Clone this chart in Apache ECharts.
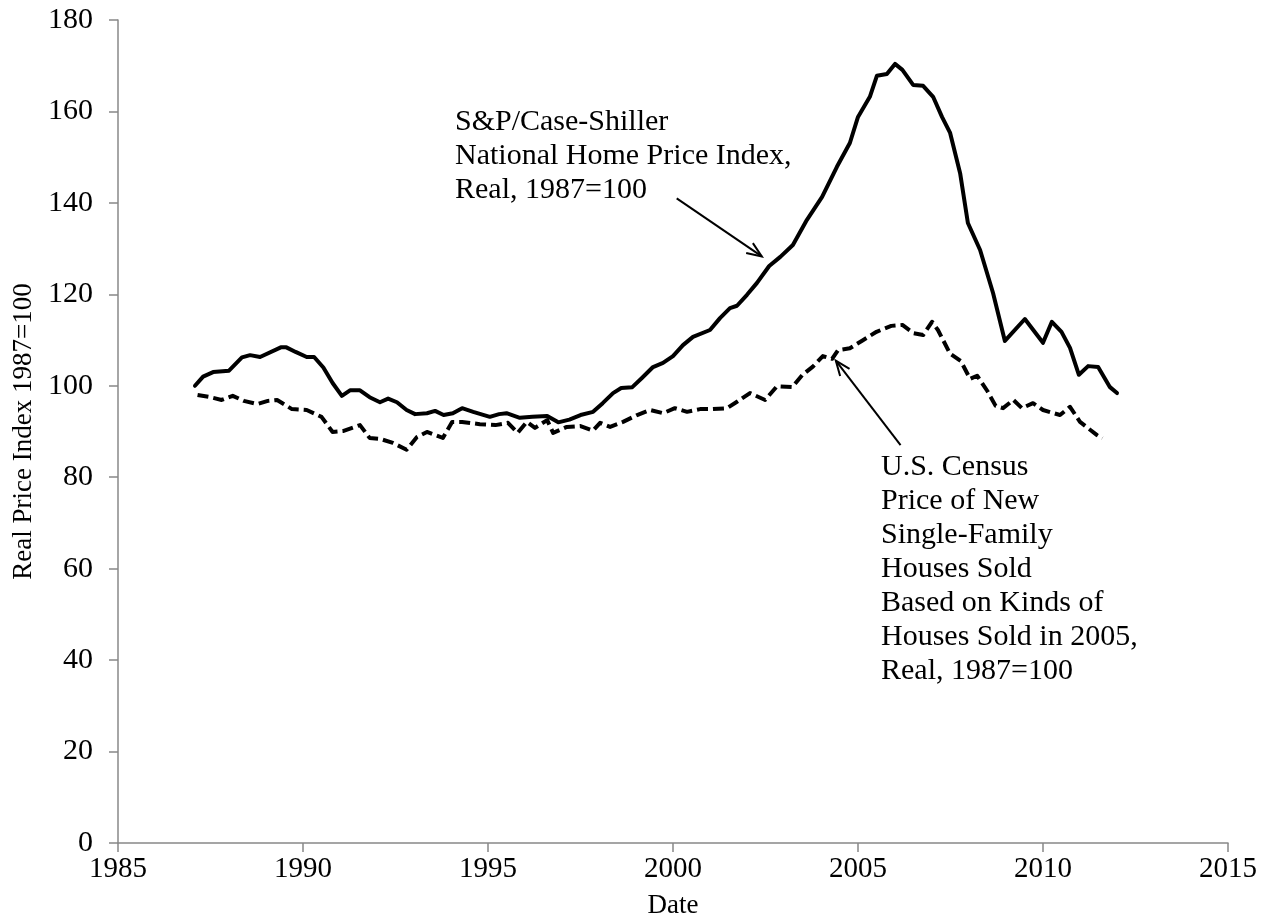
<!DOCTYPE html>
<html>
<head>
<meta charset="utf-8">
<script src="https://cdn.jsdelivr.net/npm/echarts@6/dist/echarts.min.js"></script>
<style>
  html, body { margin: 0; padding: 0; background: #fff; }
  #main { width: 1263px; height: 918px; }
</style>
</head>
<body>
<div id="main"></div>
<script>
// S&P/Case-Shiller real index
var csYears = [1987.08, 1987.3, 1987.57, 1988.0, 1988.35, 1988.57, 1988.84, 1989.4, 1989.55, 1989.8,
  1990.1, 1990.3, 1990.55, 1990.8, 1991.05, 1991.27, 1991.54, 1991.8, 1992.08, 1992.3,
  1992.54, 1992.8, 1993.03, 1993.35, 1993.57, 1993.8, 1994.05, 1994.3, 1994.6, 1995.05,
  1995.3, 1995.5, 1995.86, 1996.2, 1996.6, 1996.9, 1997.2, 1997.5, 1997.84, 1998.1,
  1998.38, 1998.6, 1998.9, 1999.16, 1999.46, 1999.73, 2000.0, 2000.27, 2000.54, 2001.0,
  2001.27, 2001.54, 2001.73, 2002.0, 2002.27, 2002.6, 2002.9, 2003.24, 2003.62, 2004.03,
  2004.43, 2004.78, 2005.0, 2005.32, 2005.51, 2005.78, 2006.0, 2006.2, 2006.49, 2006.76,
  2007.03, 2007.27, 2007.49, 2007.76, 2007.97, 2008.3, 2008.65, 2008.97, 2009.51, 2010.0,
  2010.24, 2010.5, 2010.73, 2010.97, 2011.22, 2011.49, 2011.81, 2012.0];
var csIndex = [100, 102, 103, 103.3, 106.2, 106.7, 106.3, 108.4, 108.4, 107.4,
  106.3, 106.3, 104, 100.6, 97.8, 99, 99, 97.5, 96.4, 97.2,
  96.4, 94.7, 93.8, 94, 94.5, 93.6, 94, 95.1, 94.3, 93.2,
  93.8, 94, 93, 93.2, 93.4, 92, 92.6, 93.6, 94.3, 96.2,
  98.4, 99.5, 99.7, 101.7, 104.1, 105, 106.5, 108.9, 110.7, 112.2,
  114.8, 117, 117.5, 119.9, 122.5, 126.2, 128.2, 130.8, 136.3, 141.3,
  147.9, 153.1, 158.8, 163.2, 167.8, 168.2, 170.4, 169.1, 165.8, 165.6,
  163.2, 158.8, 155.3, 146.5, 135.6, 129.7, 120.3, 109.8, 114.6, 109.4,
  114, 111.8, 108.3, 102.4, 104.3, 104.1, 99.7, 98.4];

// U.S. Census new single-family houses, constant quality, real
var censusYears = [1987.15, 1987.5, 1987.8, 1988.1, 1988.4, 1988.76, 1989.05, 1989.3, 1989.7, 1990.1,
  1990.5, 1990.8, 1991.08, 1991.54, 1991.8, 1992.08, 1992.43, 1992.8, 1993.08, 1993.35,
  1993.78, 1994.03, 1994.3, 1994.78, 1995.2, 1995.54, 1995.8, 1996.05, 1996.27, 1996.6,
  1996.76, 1997.13, 1997.5, 1997.84, 1998.03, 1998.3, 1998.65, 1999.03, 1999.38, 1999.73,
  2000.05, 2000.38, 2000.73, 2001.08, 2001.46, 2001.73, 2002.08, 2002.49, 2002.81, 2003.22,
  2003.5, 2003.78, 2004.05, 2004.3, 2004.46, 2004.78, 2005.1, 2005.5, 2005.9, 2006.2,
  2006.5, 2006.76, 2007.0, 2007.16, 2007.49, 2007.78, 2008.03, 2008.22, 2008.5, 2008.72,
  2008.92, 2009.2, 2009.43, 2009.73, 2010.0, 2010.46, 2010.73, 2011.0, 2011.46, 2011.6];
var censusIndex = [98, 97.5, 96.9, 97.8, 96.7, 96, 96.7, 96.9, 94.9, 94.7,
  93.2, 89.9, 90.1, 91.4, 88.6, 88.4, 87.5, 86, 88.8, 89.9,
  88.6, 92.1, 92.1, 91.6, 91.4, 91.9, 89.7, 92.1, 90.8, 92.5,
  89.7, 91, 91.2, 90.2, 91.9, 91, 92.1, 93.6, 94.7, 94,
  95.1, 94.3, 94.9, 94.9, 95.1, 96.5, 98.4, 96.9, 99.9, 99.7,
  102.4, 104.2, 106.5, 105.9, 107.8, 108.2, 109.8, 111.8, 113.1, 113.3,
  111.5, 111.1, 114, 112.2, 107, 105.4, 101.5, 102.2, 98.8, 95.6,
  95.1, 96.9, 95.1, 96.2, 94.7, 93.6, 95.4, 92.1, 89.2, 88.5];

var xTicks = [1985, 1990, 1995, 2000, 2005, 2010, 2015];
var yTicks = [0, 20, 40, 60, 80, 100, 120, 140, 160, 180];

function pairs(xs, ys) {
    var out = [];
    for (var i = 0; i < xs.length; i++) out.push([xs[i], ys[i]]);
    return out;
}

var serif = '"Liberation Serif", "DejaVu Serif", serif';
var myChart = echarts.init(document.getElementById('main'));

var option = {
    animation: false,
    backgroundColor: '#fff',
    grid: {
        left: 118,
        right: 35,
        top: 20,
        bottom: 75,
        outerBoundsMode: 'none'
    },
    xAxis: {
        type: 'value',
        min: xTicks[0],
        max: xTicks[xTicks.length - 1],
        interval: 5,
        name: 'Date',
        nameLocation: 'middle',
        nameGap: 49,
        nameTextStyle: { fontFamily: serif, fontSize: 27, color: '#000' },
        axisLine: { lineStyle: { color: '#888', width: 1.5 } },
        axisTick: { show: true, length: 9, lineStyle: { color: '#888', width: 1.5 } },
        axisLabel: {
            fontFamily: serif, fontSize: 29, color: '#000', margin: 12,
            formatter: function (v) { return String(v); }
        },
        splitLine: { show: false }
    },
    yAxis: {
        type: 'value',
        min: yTicks[0],
        max: yTicks[yTicks.length - 1],
        interval: 20,
        name: 'Real Price Index 1987=100',
        nameLocation: 'middle',
        nameGap: 79,
        nameTextStyle: { fontFamily: serif, fontSize: 27, color: '#000' },
        axisLine: { show: true, lineStyle: { color: '#888', width: 1.5 } },
        axisTick: { show: true, length: 9, lineStyle: { color: '#888', width: 1.5 } },
        axisLabel: { fontFamily: serif, fontSize: 30, color: '#000', margin: 25 },
        splitLine: { show: false }
    },
    series: [
        {
            name: 'S&P/Case-Shiller',
            type: 'line',
            showSymbol: false,
            data: pairs(csYears, csIndex),
            lineStyle: { color: '#000', width: 4, join: 'round', cap: 'round' }
        },
        {
            name: 'U.S. Census',
            type: 'line',
            showSymbol: false,
            data: pairs(censusYears, censusIndex),
            lineStyle: { color: '#000', width: 4, type: [11, 5], join: 'round' }
        }
    ]
};

myChart.setOption(option);

// annotation arrows, anchored in data space
function arrow(from, to) {
    var a = myChart.convertToPixel({ gridIndex: 0 }, from);
    var b = myChart.convertToPixel({ gridIndex: 0 }, to);
    var ang = Math.atan2(b[1] - a[1], b[0] - a[0]);
    var len = 16, spread = 0.38;
    var h1 = [b[0] - len * Math.cos(ang - spread), b[1] - len * Math.sin(ang - spread)];
    var h2 = [b[0] - len * Math.cos(ang + spread), b[1] - len * Math.sin(ang + spread)];
    var st = { stroke: '#000', lineWidth: 2, fill: null };
    return [
        { type: 'line', shape: { x1: a[0], y1: a[1], x2: b[0], y2: b[1] }, style: st },
        { type: 'polyline', shape: { points: [h1, b, h2] }, style: st }
    ];
}

var labelFont = '30px ' + serif;
var graphics = []
    .concat(arrow([2000.1, 141], [2002.4, 128.3]))
    .concat(arrow([2006.15, 87], [2004.4, 105.5]))
    .concat([
        {
            type: 'text', left: 455, top: 105,
            style: {
                text: 'S&P/Case-Shiller\nNational Home Price Index,\nReal, 1987=100',
                font: labelFont, lineHeight: 34, fill: '#000'
            }
        },
        {
            type: 'text', left: 881, top: 450,
            style: {
                text: 'U.S. Census\nPrice of New\nSingle-Family\nHouses Sold\nBased on Kinds of\nHouses Sold in 2005,\nReal, 1987=100',
                font: labelFont, lineHeight: 34, fill: '#000'
            }
        }
    ]);

myChart.setOption({ graphic: graphics });
</script>
</body>
</html>
